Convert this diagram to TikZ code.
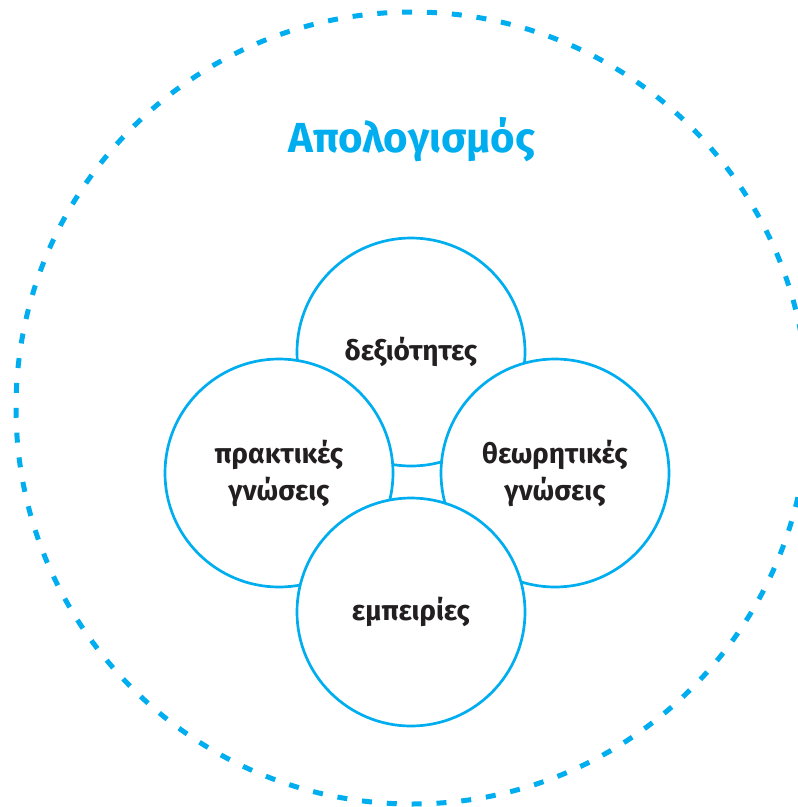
\documentclass[tikz,border=0pt]{standalone}
\usepackage{fontspec}
\setmainfont{Fira Sans}
\definecolor{cy}{HTML}{00AEEF}
\definecolor{ink}{HTML}{231F20}
\begin{document}
\begin{tikzpicture}[x=1pt,y=-1pt,
  bub/.style={circle, draw=cy, line width=2.7pt, fill=white, minimum size=228pt,
    inner sep=0pt, align=center, text=ink, font=\fontsize{28}{37}\selectfont\bfseries},
  outer/.style={circle, draw=cy, line width=5pt, minimum size=792pt, inner sep=0pt,
    dash pattern=on 10pt off 14.88pt}]
\useasboundingbox (0,0) rectangle (798,807);
\node[outer] (ring) at (412,408) {};
\node[text=cy, font=\fontsize{42}{48}\selectfont\bfseries] (title) at (412,140) {Απολογισμός};
\node[bub] (top) at (411,352) {δεξιότητες};
\node[bub] (left) at (279,473) {πρακτικές\\γνώσεις};
\node[bub] (right) at (555,473) {θεωρητικές\\γνώσεις};
\node[bub] (bottom) at (411,612) {εμπειρίες};
\end{tikzpicture}
\end{document}
